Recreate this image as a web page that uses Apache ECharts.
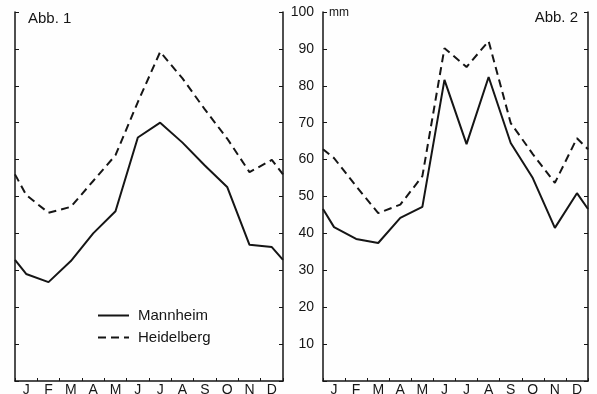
<!DOCTYPE html>
<html>
<head>
<meta charset="utf-8">
<script src="https://cdn.jsdelivr.net/npm/echarts@6/dist/echarts.min.js"></script>
<style>
  html, body { margin: 0; padding: 0; background: #fefefe; }
  #chart { width: 597px; height: 394px; }
</style>
</head>
<body>
<div id="chart"></div>
<script>
// Monatsniederschlag in mm
var months = ['J', 'F', 'M', 'A', 'M', 'J', 'J', 'A', 'S', 'O', 'N', 'D'];

// Abb. 1
var mannheim1 = [29, 26.8, 32.5, 40, 46, 66, 70, 64.6, 58.4, 52.6, 36.9, 36.3];
var heidelberg1 = [50.4, 45.6, 47.2, 54.2, 61.2, 75.6, 89.2, 82, 73.6, 65.7, 56.6, 59.9];
var mannheim1Edge = 32.8;
var heidelberg1Edge = 56;

// Abb. 2
var mannheim2 = [41.7, 38.5, 37.4, 44.2, 47.2, 81.6, 64.2, 82.4, 64.5, 55, 41.5, 50.9];
var heidelberg2 = [60.4, 52.8, 45.5, 47.8, 55.5, 90.2, 85.1, 92.1, 69.9, 61.5, 53.7, 65.8];
var mannheim2Edge = 46.6;
var heidelberg2Edge = 62.8;

var yTicks = [0, 10, 20, 30, 40, 50, 60, 70, 80, 90, 100];

var ink = '#151515';
var font = 'Liberation Sans';

// Punkte in Monatsmitte, dazu Anfangs- und Endwert am Rand
function toPoints(values, edge) {
  var pts = [[0, edge]];
  values.forEach(function (v, i) {
    pts.push([i + 0.5, v]);
  });
  pts.push([12, edge]);
  return pts;
}

function xAxisFor(gridIndex) {
  return {
    type: 'value',
    gridIndex: gridIndex,
    min: 0,
    max: 12,
    interval: 1,
    axisLine: { show: true, onZero: false, lineStyle: { color: ink, width: 1.5 } },
    axisTick: { show: true, inside: true, length: 3, lineStyle: { color: ink, width: 1 } },
    splitLine: { show: false },
    axisLabel: {
      customValues: months.map(function (m, i) { return i + 0.5; }),
      formatter: function (v) { return months[Math.floor(v)]; },
      color: ink,
      fontFamily: font,
      fontSize: 14,
      margin: 2
    }
  };
}

function yAxisFor(gridIndex, position, labels) {
  return {
    type: 'value',
    gridIndex: gridIndex,
    position: position,
    min: yTicks[0],
    max: yTicks[yTicks.length - 1],
    interval: 10,
    axisLine: { show: true, lineStyle: { color: ink, width: 1.5 } },
    axisTick: { show: true, inside: true, length: 4, lineStyle: { color: ink, width: 1 } },
    splitLine: { show: false },
    axisLabel: {
      show: labels,
      formatter: function (v) { return v === 0 ? '' : v; },
      color: ink,
      fontFamily: font,
      fontSize: 14,
      margin: 9
    }
  };
}

function lineSeries(name, data, axisIndex, dashed) {
  return {
    name: name,
    type: 'line',
    xAxisIndex: axisIndex,
    yAxisIndex: axisIndex * 2,
    data: data,
    symbol: 'none',
    silent: true,
    animation: false,
    lineStyle: { color: ink, width: 2, type: dashed ? [8, 5] : 'solid' },
    itemStyle: { color: ink }
  };
}

var myChart = echarts.init(document.getElementById('chart'));
var option = {
  backgroundColor: '#fefefe',
  animation: false,
  grid: [
    { left: 15, right: 314, top: 12, bottom: 13, outerBoundsMode: 'none' },
    { left: 323, right: 9, top: 12, bottom: 13, outerBoundsMode: 'none' }
  ],
  xAxis: [xAxisFor(0), xAxisFor(1)],
  yAxis: [
    yAxisFor(0, 'left', false),
    yAxisFor(0, 'right', false),
    yAxisFor(1, 'left', true),
    yAxisFor(1, 'right', false)
  ],
  legend: {
    data: ['Mannheim', 'Heidelberg'],
    orient: 'vertical',
    left: 92,
    top: 303,
    itemWidth: 31,
    itemHeight: 14,
    itemGap: 7,
    selectedMode: false,
    itemStyle: { opacity: 0 },
    textStyle: { color: ink, fontFamily: font, fontSize: 15, padding: [0, 0, 0, 4] }
  },
  graphic: [
    { type: 'text', left: 28, top: 11, style: { text: 'Abb. 1', fill: ink, font: '15px "Liberation Sans"' } },
    { type: 'text', right: 19, top: 10, style: { text: 'Abb. 2', fill: ink, font: '15px "Liberation Sans"' } },
    { type: 'text', left: 329, top: 7, style: { text: 'mm', fill: ink, font: '12px "Liberation Sans"' } }
  ],
  series: [
    lineSeries('Mannheim', toPoints(mannheim1, mannheim1Edge), 0, false),
    lineSeries('Heidelberg', toPoints(heidelberg1, heidelberg1Edge), 0, true),
    lineSeries('Mannheim', toPoints(mannheim2, mannheim2Edge), 1, false),
    lineSeries('Heidelberg', toPoints(heidelberg2, heidelberg2Edge), 1, true)
  ]
};
myChart.setOption(option);
</script>
</body>
</html>
